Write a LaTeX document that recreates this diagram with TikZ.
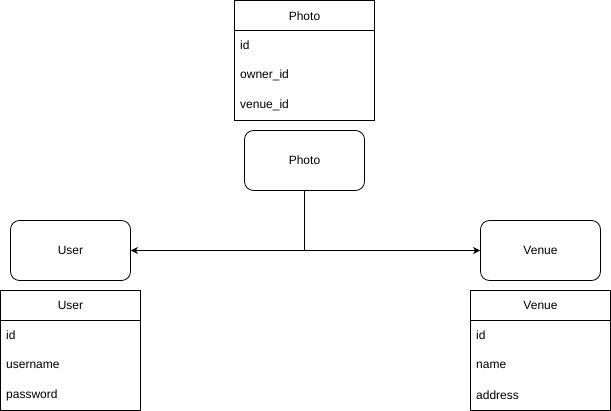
\documentclass[tikz,border=0pt]{standalone}
\usepackage{fontspec}
\setmainfont{Liberation Sans}
\usetikzlibrary{arrows.meta}
\begin{document}
\begin{tikzpicture}[x=1pt,y=-1pt,
  font=\fontsize{12}{14}\selectfont,
  rbox/.style={draw, rounded corners=9pt, line width=0.8pt},
  tbl/.style={draw, line width=0.8pt},
  row/.style={anchor=west, inner sep=0pt},
  conn/.style={line width=0.8pt},
  arr/.style={conn, -{Stealth[length=7pt,width=7pt,inset=2pt]}}]
\useasboundingbox (0,0) rectangle (611,411);
% Photo table
\draw[tbl] (234.5,0.5) rectangle (374.5,120.5);
\draw[tbl] (234.5,30.5) -- (374.5,30.5);
\node (pt) at (304.5,16) {Photo};
\node[row] (pt1) at (240,45) {id};
\node[row] (pt2) at (240,75) {owner\_id};
\node[row] (pt3) at (240,105) {venue\_id};
% User table
\draw[tbl] (0.5,290.5) rectangle (140.5,410.5);
\draw[tbl] (0.5,320.5) -- (140.5,320.5);
\node (ut) at (70.5,305) {User};
\node[row] (ut1) at (6,335) {id};
\node[row] (ut2) at (6,365) {username};
\node[row] (ut3) at (6,395) {password};
% Venue table
\draw[tbl] (470.5,290.5) rectangle (610.5,410.5);
\draw[tbl] (470.5,320.5) -- (610.5,320.5);
\node (vt) at (540.5,305) {Venue};
\node[row] (vt1) at (476,335) {id};
\node[row] (vt2) at (476,365) {name};
\node[row] (vt3) at (476,395) {address};
% entity boxes
\node[rbox, minimum width=120pt, minimum height=60pt] (photo) at (304.5,160.5) {Photo};
\node[rbox, minimum width=120pt, minimum height=60pt] (user) at (70.5,250.5) {User};
\node[rbox, minimum width=120pt, minimum height=60pt] (venue) at (540.5,250.5) {Venue};
\coordinate (j) at (photo.south |- user.east);
\draw[conn] (photo.south) -- (j);
\draw[arr] (j) -- (user.east);
\draw[arr] (j) -- (venue.west);
\end{tikzpicture}
\end{document}
